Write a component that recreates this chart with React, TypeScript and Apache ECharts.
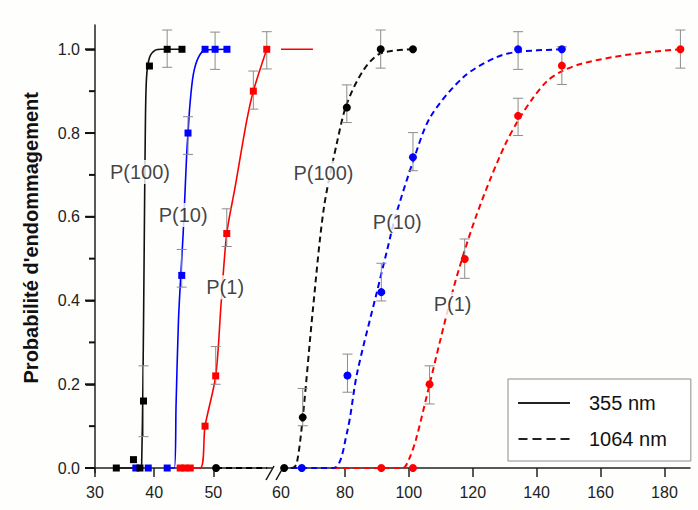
import React, { useEffect, useRef } from "react";
import * as echarts from "echarts";

// ---------- data ----------
// 355 nm measurements (left section of the broken x axis), squares
const black355: number[][] = [[33.6, 0], [36.5, 0.02], [37.6, 0], [38.2, 0.16], [39.2, 0.96], [42.2, 1], [44.7, 1]];
const blue355: number[][] = [[36.9, 0], [39.0, 0], [42.2, 0], [44.66, 0.46], [45.72, 0.8], [48.6, 1], [50.3, 1], [52.3, 1]];
const red355: number[][] = [[44.4, 0], [45.2, 0], [46.1, 0], [48.6, 0.1], [50.4, 0.22], [52.27, 0.56], [56.76, 0.9], [59.03, 1]];

// 355 nm fitted curves (solid)
const black355Fit: number[][] = [[33.6, 0], [37.8, 0], [37.9, 0.02], [38.1, 0.2], [38.3, 0.5], [38.5, 0.8], [38.7, 0.93], [39.2, 0.98], [40.2, 0.998], [41.2, 1], [44.7, 1]];
const blue355Fit: number[][] = [[42.2, 0], [43.4, 0], [43.7, 0.15], [44.1, 0.35], [44.5, 0.46], [44.9, 0.56], [45.22, 0.66], [45.5, 0.75], [45.72, 0.8], [46.06, 0.87], [46.62, 0.94], [47.46, 0.98], [48.6, 0.998], [52.3, 1]];
const red355Fit: number[][] = [[44.4, 0], [47.75, 0], [48.6, 0.1], [50.4, 0.22], [51.3, 0.39], [52.27, 0.56], [53.67, 0.67], [55.65, 0.83], [56.76, 0.9], [59.03, 1]];
const red355FitTail: number[][] = [[60, 1], [70, 1]];

// 1064 nm measurements (circles)
const black1064Left: number[][] = [[50.46, 0]];
const black1064LeftFit: number[][] = [[50.46, 0], [59.1, 0]];
const black1064: number[][] = [[61.0, 0], [66.8, 0.121], [80.6, 0.861], [91.2, 1], [101.3, 1]];
const blue1064: number[][] = [[66.5, 0], [80.8, 0.221], [91.4, 0.42], [101.3, 0.742], [134.2, 1], [147.9, 1]];
const red1064: number[][] = [[91.4, 0], [101.3, 0], [106.5, 0.2], [117.5, 0.499], [134.2, 0.841], [147.9, 0.961], [185, 1]];

// 1064 nm fitted curves (dashed)
const black1064Fit: number[][] = [[60, 0], [63.5, 0], [64.9, 0.01], [66.8, 0.12], [70, 0.38], [73.4, 0.62], [77.6, 0.78], [80.6, 0.87], [85.8, 0.95], [91.1, 0.99], [101.3, 1]];
const blue1064Fit: number[][] = [[60, 0], [76.4, 0], [80.6, 0.083], [83.8, 0.226], [90.0, 0.42], [93.2, 0.52], [95.8, 0.6], [101.5, 0.736], [106.8, 0.839], [117.3, 0.935], [127.7, 0.982], [134.2, 0.994], [147.9, 1]];
const red1064Fit: number[][] = [[76.4, 0], [98.1, 0], [100, 0.02], [102.2, 0.067], [106.5, 0.2], [110, 0.31], [114, 0.43], [117.5, 0.52], [121, 0.6], [125.5, 0.69], [130, 0.77], [134.2, 0.83], [139, 0.885], [143.4, 0.925], [148, 0.948], [153.8, 0.965], [164.3, 0.982], [174.8, 0.993], [185, 1]];

// error bars: [x, low, high]
const err355: number[][] = [[38.2, 0.075, 0.244], [42.2, 0.957, 1.046], [44.66, 0.432, 0.522], [45.72, 0.749, 0.839], [50.3, 0.952, 1.041], [50.4, 0.2, 0.29], [52.27, 0.529, 0.619], [56.76, 0.857, 0.948], [59.03, 0.953, 1.042]];
const err1064: number[][] = [[66.8, 0.101, 0.19], [80.6, 0.825, 0.915], [91.2, 0.955, 1.046], [80.8, 0.181, 0.272], [91.4, 0.399, 0.489], [101.3, 0.71, 0.801], [134.2, 0.952, 1.042], [106.5, 0.153, 0.244], [117.5, 0.453, 0.547], [134.2, 0.794, 0.883], [147.9, 0.916, 1.006], [185, 0.955, 1.046]];

// curve labels
const labelNames = ["P(100)", "P(10)", "P(1)"];
const labels355X = [37.6, 44.9, 52.0];
const labels355Y = [0.707, 0.604, 0.432];
const labels1064X = [73.3, 96.4, 113.7];
const labels1064Y = [0.705, 0.588, 0.392];

// legend entries
const legendNames = ["355 nm", "1064 nm"];

// axes
const yTicks = [0, 0.2, 0.4, 0.6, 0.8, 1.0];
const yMinorTicks = [0.1, 0.3, 0.5, 0.7, 0.9];
const xLeftTicks = [30, 40, 50];
const xRightLabels = [60, 80, 100, 120, 140, 160, 180];
const xRightTicks = [80, 100, 120, 140, 160, 180];

const BLACK = "#000000";
const BLUE = "#0000ff";
const RED = "#ff0000";
const FONT = "'Liberation Sans', Arial, sans-serif";
const X_LEFT_MIN = 30;
const Y_MIN = -0.0107;
const Y_MAX = 1.058;

const SOLID_ICON = "path://M0,0H52V2H0Z";
const DASH_ICON = "path://M0,0H9V2H0Z M14,0H23V2H14Z M28,0H37V2H28Z M42,0H51V2H42Z";

export default function App() {
  const ref = useRef<HTMLDivElement>(null);

  useEffect(() => {
    if (!ref.current) return;
    const chart = echarts.init(ref.current, null, { renderer: "svg" });

    const mkAxisLine = () => ({ show: true, lineStyle: { color: "#222", width: 1.5 } });

    const errSeries = (data: number[][], axis: number) => ({
      type: "custom",
      xAxisIndex: axis,
      yAxisIndex: axis,
      silent: true,
      clip: false,
      z: 3,
      encode: { x: 0, y: [1, 2] },
      data,
      renderItem: (params: any, api: any) => {
        const x = api.value(0);
        const p1 = api.coord([x, api.value(1)]);
        const p2 = api.coord([x, api.value(2)]);
        const hw = 5;
        const style = { stroke: "#8c8c8c", lineWidth: 1 };
        return {
          type: "group",
          children: [
            { type: "line", shape: { x1: p1[0], y1: p1[1], x2: p2[0], y2: p2[1] }, style },
            { type: "line", shape: { x1: p1[0] - hw, y1: p1[1], x2: p1[0] + hw, y2: p1[1] }, style },
            { type: "line", shape: { x1: p2[0] - hw, y1: p2[1], x2: p2[0] + hw, y2: p2[1] }, style },
          ],
        };
      },
    });

    // y-axis tick marks, positioned through the left grid's scales (drawn as thin rects)
    const yTickSeries = (values: number[], len: number) => ({
      type: "custom",
      xAxisIndex: 0,
      yAxisIndex: 0,
      silent: true,
      clip: false,
      z: 10,
      encode: { x: 0, y: 1 },
      data: values.map((v) => [X_LEFT_MIN, v]),
      renderItem: (params: any, api: any) => {
        const p = api.coord([api.value(0), api.value(1)]);
        return {
          type: "rect",
          shape: { x: p[0] - len, y: p[1] - 1, width: len, height: 2 },
          style: { fill: "#111" },
        };
      },
    });

    const fit = (name: string, data: number[][], color: string, axis: number, dashed: boolean) => ({
      name,
      type: "line",
      xAxisIndex: axis,
      yAxisIndex: axis,
      data,
      symbol: "none",
      smooth: 0.3,
      silent: true,
      z: 2,
      itemStyle: { color },
      lineStyle: dashed ? { color, width: 2, type: [6, 4] } : { color, width: 1.6, type: "solid" },
    });

    const pts = (data: number[][], color: string, axis: number, symbol: string, size: number) => ({
      type: "scatter",
      xAxisIndex: axis,
      yAxisIndex: axis,
      data,
      symbol,
      symbolSize: size,
      silent: true,
      z: 4,
      itemStyle: { color, opacity: 1 },
    });

    const labels = (xs: number[], ys: number[], axis: number) => ({
      type: "scatter",
      xAxisIndex: axis,
      yAxisIndex: axis,
      silent: true,
      symbolSize: 0,
      z: 5,
      data: labelNames.map((n, i) => ({ name: n, value: [xs[i], ys[i]] })),
      label: {
        show: true,
        position: "inside",
        formatter: "{b}",
        fontSize: 20,
        fontFamily: FONT,
        color: "#111",
        backgroundColor: "#ffffff",
        padding: [2, 3],
      },
    });

    const option: any = {
      animation: false,
      backgroundColor: "#fefefc",
      textStyle: { fontFamily: FONT },
      grid: [
        { left: 95, right: 698 - 272.5, top: 25, bottom: 37.5 },
        { left: 281, right: 8, top: 25, bottom: 37.5 },
      ],
      xAxis: [
        {
          type: "value",
          gridIndex: 0,
          min: X_LEFT_MIN,
          max: 60,
          axisLine: mkAxisLine(),
          splitLine: { show: false },
          axisTick: { show: true, length: 9, lineStyle: { color: "#222", width: 1.5 }, customValues: xLeftTicks },
          axisLabel: { customValues: xLeftTicks, fontSize: 16, color: "#222", margin: 12, fontFamily: FONT },
        },
        {
          type: "value",
          gridIndex: 1,
          min: 60,
          max: 188,
          axisLine: mkAxisLine(),
          splitLine: { show: false },
          axisTick: { show: true, length: 9, lineStyle: { color: "#222", width: 1.5 }, customValues: xRightTicks },
          axisLabel: { customValues: xRightLabels, fontSize: 16, color: "#222", margin: 12, fontFamily: FONT, showMinLabel: true },
        },
      ],
      yAxis: [
        {
          type: "value",
          gridIndex: 0,
          position: "left",
          min: Y_MIN,
          max: Y_MAX,
          axisLine: mkAxisLine(),
          splitLine: { show: false },
          name: "Probabilité d'endommagement",
          nameLocation: "middle",
          nameGap: 54,
          nameTextStyle: { fontSize: 20, fontWeight: "bold", color: "#111", fontFamily: FONT, padding: [0, 0, 0, 22] },
          axisTick: { show: true, length: 9, lineStyle: { color: "#111", width: 1.5 }, customValues: yTicks },
          axisLabel: {
            customValues: yTicks,
            fontSize: 16,
            color: "#222",
            margin: 15,
            fontFamily: FONT,
            formatter: (v: number) => v.toFixed(1),
          },
        },
        {
          type: "value",
          gridIndex: 1,
          min: Y_MIN,
          max: Y_MAX,
          show: false,
        },
      ],
      legend: {
        data: [
          { name: legendNames[0], icon: SOLID_ICON },
          { name: legendNames[1], icon: DASH_ICON },
        ],
        orient: "vertical",
        left: 508,
        top: 379,
        padding: [14, 24, 12, 10],
        itemGap: 16,
        itemWidth: 52,
        itemHeight: 2,
        borderColor: "#8c8c8c",
        borderWidth: 1,
        backgroundColor: "#ffffff",
        selectedMode: false,
        itemStyle: { color: "#222" },
        textStyle: { fontSize: 20, color: "#111", fontFamily: FONT, padding: [0, 0, 0, 14] },
      },
      graphic: [
        { type: "line", shape: { x1: 266, y1: 480, x2: 274, y2: 466 }, style: { stroke: "#111", lineWidth: 1.5 } },
        { type: "line", shape: { x1: 276, y1: 480, x2: 284, y2: 466 }, style: { stroke: "#111", lineWidth: 1.5 } },
      ],
      series: [
        // fits
        fit(legendNames[0], black355Fit, "#111", 0, false),
        fit("blue355fit", blue355Fit, BLUE, 0, false),
        fit("red355fit", red355Fit, RED, 0, false),
        fit("red355tail", red355FitTail, RED, 1, false),
        fit("black1064leftfit", black1064LeftFit, BLACK, 0, true),
        fit("red1064fit", red1064Fit, RED, 1, true),
        fit("blue1064fit", blue1064Fit, BLUE, 1, true),
        fit(legendNames[1], black1064Fit, "#111", 1, true),
        // error bars
        errSeries(err355, 0),
        errSeries(err1064, 1),
        // y ticks (major and minor)
        yTickSeries(yTicks, 10),
        yTickSeries(yMinorTicks, 6),
        // points
        pts(blue355, BLUE, 0, "rect", 7),
        pts(red355, RED, 0, "rect", 7),
        pts(black355, BLACK, 0, "rect", 7),
        pts(black1064Left, BLACK, 0, "circle", 8),
        pts(black1064, BLACK, 1, "circle", 8),
        pts(blue1064, BLUE, 1, "circle", 8),
        pts(red1064, RED, 1, "circle", 8),
        // labels
        labels(labels355X, labels355Y, 0),
        labels(labels1064X, labels1064Y, 1),
      ],
    };

    chart.setOption(option);
    return () => chart.dispose();
  }, []);

  return <div ref={ref} style={{ position: "fixed", left: 0, top: 0, width: 698, height: 510 }} />;
}
